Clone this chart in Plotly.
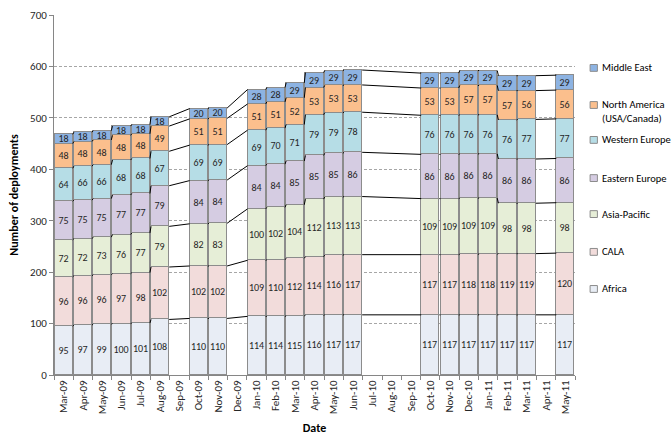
import plotly.graph_objects as go

MONTHS = [
    "Mar-09", "Apr-09", "May-09", "Jun-09", "Jul-09", "Aug-09", "Sep-09",
    "Oct-09", "Nov-09", "Dec-09", "Jan-10", "Feb-10", "Mar-10", "Apr-10",
    "May-10", "Jun-10", "Jul-10", "Aug-10", "Sep-10", "Oct-10", "Nov-10",
    "Dec-10", "Jan-11", "Feb-11", "Mar-11", "Apr-11", "May-11",
]
N = None

AFRICA = [95, 97, 99, 100, 101, 108, N, 110, 110, N, 114, 114, 115, 116, 117, 117,
          N, N, N, 117, 117, 117, 117, 117, 117, N, 117]
CALA = [96, 96, 96, 97, 98, 102, N, 102, 102, N, 109, 110, 112, 114, 116, 117,
        N, N, N, 117, 117, 118, 118, 119, 119, N, 120]
ASIA_PACIFIC = [72, 72, 73, 76, 77, 79, N, 82, 83, N, 100, 102, 104, 112, 113, 113,
                N, N, N, 109, 109, 109, 109, 98, 98, N, 98]
EASTERN_EUROPE = [75, 75, 75, 77, 77, 79, N, 84, 84, N, 84, 84, 85, 85, 85, 86,
                  N, N, N, 86, 86, 86, 86, 86, 86, N, 86]
WESTERN_EUROPE = [64, 66, 66, 68, 68, 67, N, 69, 69, N, 69, 70, 71, 79, 79, 78,
                  N, N, N, 76, 76, 76, 76, 76, 77, N, 77]
NORTH_AMERICA = [48, 48, 48, 48, 48, 49, N, 51, 51, N, 51, 51, 52, 53, 53, 53,
                 N, N, N, 53, 53, 57, 57, 57, 56, N, 56]
MIDDLE_EAST = [18, 18, 18, 18, 18, 18, N, 20, 20, N, 28, 28, 29, 29, 29, 29,
               N, N, N, 29, 29, 29, 29, 29, 29, N, 29]

SERIES = [
    ("Africa", AFRICA, "#E8EDF5"),
    ("CALA", CALA, "#F2DCDB"),
    ("Asia-Pacific", ASIA_PACIFIC, "#E6EED7"),
    ("Eastern Europe", EASTERN_EUROPE, "#D5CCE2"),
    ("Western Europe", WESTERN_EUROPE, "#B6DDE6"),
    ("North America<br>(USA/Canada)", NORTH_AMERICA, "#FBBF8D"),
    ("Middle East", MIDDLE_EAST, "#8DB3E2"),
]

FONT = "Calibri, Carlito, Lato, sans-serif"
BAR_W = 0.94
BORDER = "#8C8C8C"
TEXT = "#262626"

xs = list(range(len(MONTHS)))
fig = go.Figure()

# stacked bars
for name, vals, color in SERIES:
    fig.add_trace(
        go.Bar(
            x=xs,
            y=vals,
            name=name,
            width=BAR_W,
            marker={"color": color, "line": {"color": BORDER, "width": 1}},
            texttemplate="%{y}",
            textposition="inside",
            insidetextanchor="middle",
            textangle=0,
            constraintext="none",
            textfont={"family": FONT, "size": 10, "color": TEXT},
            showlegend=False,
            hoverinfo="skip",
        ),
    )

# series lines joining segment tops between bars (skipping empty months)
tops = [0.0] * len(MONTHS)
lx, ly = [], []
for name, vals, color in SERIES:
    for i, v in enumerate(vals):
        if v is not None:
            tops[i] += v
    valid = [i for i, v in enumerate(vals) if v is not None]
    for a, b in zip(valid[:-1], valid[1:]):
        lx += [a + BAR_W / 2, b - BAR_W / 2, None]
        ly += [tops[a], tops[b], None]
fig.add_trace(
    go.Scatter(
        x=lx, y=ly, mode="lines", line={"color": "#000000", "width": 1},
        showlegend=False, hoverinfo="skip",
    ),
)

# manual legend on the right, top entry first
LEG_Y = [0.853, 0.750, 0.653, 0.547, 0.447, 0.342, 0.239]
for (name, vals, color), yy in zip(reversed(SERIES), LEG_Y):
    fig.add_shape(
        type="rect", xref="paper", yref="paper",
        x0=1.029, x1=1.043, y0=yy - 0.0095, y1=yy + 0.0095,
        fillcolor=color, line={"color": BORDER, "width": 1},
    )
    multi = "<br>" in name
    fig.add_annotation(
        x=1.048, y=yy - (0.018 if multi else 0), xref="paper", yref="paper",
        text=name, showarrow=False, xanchor="left", yanchor="middle", align="left",
        font={"family": FONT, "size": 10.5, "color": "#000000"},
    )

fig.update_layout(
    barmode="stack",
    width=671,
    height=441,
    paper_bgcolor="white",
    plot_bgcolor="white",
    margin={"l": 54, "r": 96, "t": 15, "b": 66},
    font={"family": FONT, "size": 11, "color": "#404040"},
    bargap=0,
)
fig.update_xaxes(
    range=[-0.5, len(MONTHS) - 0.5],
    tickvals=xs,
    ticktext=MONTHS,
    tickangle=-90,
    ticks="",
    tickfont={"family": FONT, "size": 11, "color": "#262626"},
    showgrid=False,
    zeroline=False,
    showline=True,
    linecolor="#868686",
    linewidth=1,
    automargin=False,
    minor={"ticks": "outside", "tick0": -0.5, "dtick": 1, "ticklen": 4,
           "tickcolor": "#868686", "showgrid": False},
    title={"text": "<b>Date</b>", "font": {"family": FONT, "size": 12, "color": "#000000"},
           "standoff": 10},
)
fig.update_yaxes(
    range=[0, 700],
    dtick=100,
    ticks="outside",
    ticklen=4,
    tickcolor="#868686",
    tickfont={"family": FONT, "size": 11, "color": "#262626"},
    showgrid=True,
    gridcolor="#A6A6A6",
    griddash="3px,2px",
    gridwidth=1,
    zeroline=False,
    showline=True,
    linecolor="#868686",
    linewidth=1,
    automargin=False,
    title={"text": "<b>Number of deployments</b>",
           "font": {"family": FONT, "size": 12, "color": "#000000"}, "standoff": 8},
)

# page body has a default 8px margin; remove it so the chart sits at the corner
fig.write_html(
    "out.html",
    config={"displayModeBar": False},
    post_script="document.body.style.margin = '0';",
)
